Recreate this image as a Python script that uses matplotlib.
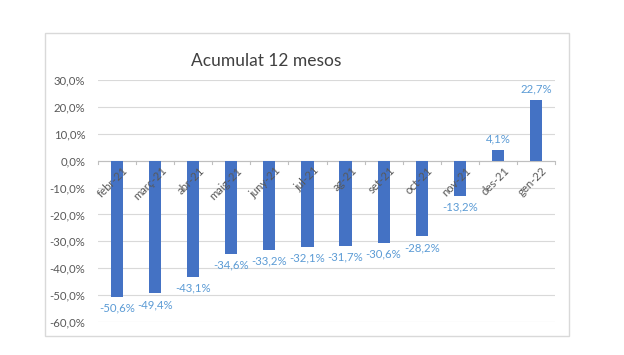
import matplotlib
matplotlib.use("Agg")
import matplotlib.pyplot as plt
from matplotlib.patches import Rectangle
import numpy as np

categories = ["febr-21", "març-21", "abr-21", "maig-21", "juny-21", "jul-21",
              "ag-21", "set-21", "oct-21", "nov-21", "des-21", "gen-22"]
values = [-50.6, -49.4, -43.1, -34.6, -33.2, -32.1, -31.7, -30.6, -28.2, -13.2, 4.1, 22.7]
yticks = [30, 20, 10, 0, -10, -20, -30, -40, -50, -60]
title = "Acumulat 12 mesos"

plt.rcParams['font.family'] = ['Lato', 'DejaVu Sans']

fig = plt.figure(figsize=(6.24, 3.55), dpi=100)
fig.patch.set_facecolor('white')
fig.add_artist(Rectangle((45/624, 1-336/355), (569-45)/624, (336-33)/355,
                         transform=fig.transFigure, fill=False, edgecolor='#d9d9d9', lw=1))

ax = fig.add_axes([98/624, 1-322/355, (555-98)/624, (322-80)/355])
x = np.arange(len(categories))
ax.bar(x, values, width=0.32, color='#4472C4', zorder=3)
ax.set_xlim(-0.5, len(categories)-0.5)
ax.set_ylim(-60, 30)
ax.set_yticks(yticks)
ax.set_yticklabels([f"{v:.1f}%".replace('.', ',') for v in yticks], color='#595959', fontsize=8.2)
ax.tick_params(axis='y', length=0, pad=9)
ax.yaxis.grid(True, color='#d9d9d9', lw=0.8, zorder=0)
ax.set_xticks([])
for s in ax.spines.values():
    s.set_visible(False)
ax.axhline(0, color='#bfbfbf', lw=0.8, zorder=2)
for b in np.arange(-0.5, len(categories)+0.5, 1):
    ax.plot([b, b], [0, -1.2], color='#bfbfbf', lw=0.8, zorder=2, clip_on=False)

for xi, lab in zip(x, categories):
    ax.annotate(lab, xy=(xi, 0), xytext=(4, -3), textcoords='offset points',
                rotation=45, ha='right', va='top', rotation_mode='anchor',
                fontsize=8.2, color='#595959', zorder=4)

for xi, v in zip(x, values):
    txt = f"{v:.1f}%".replace('.', ',')
    if v < 0:
        ax.annotate(txt, xy=(xi, v), xytext=(0, -4), textcoords='offset points',
                    ha='center', va='top', fontsize=8.2, color='#5B9BD5')
    else:
        ax.annotate(txt, xy=(xi, v), xytext=(0, 4), textcoords='offset points',
                    ha='center', va='bottom', fontsize=8.2, color='#5B9BD5')

fig.text(266/624, 1-61/355, title, ha='center', va='center', fontsize=12.5, color='#404040')

fig.savefig("out.png", dpi=100)
